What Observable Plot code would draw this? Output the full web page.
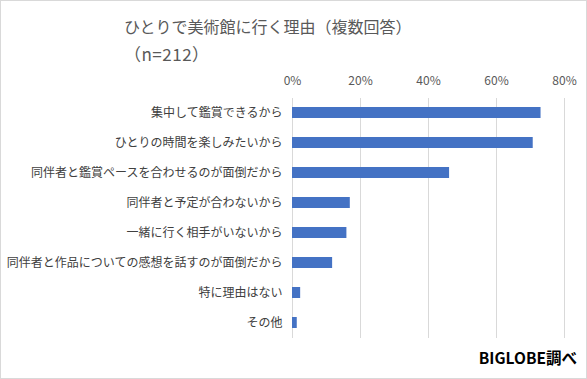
<!DOCTYPE html>
<html><head><meta charset="utf-8">
<script src="https://cdn.jsdelivr.net/npm/d3@7"></script>
<script src="https://cdn.jsdelivr.net/npm/@observablehq/plot@0.6"></script>
<style>
body{margin:0;background:#fff;}
#wrap{position:relative;width:587px;height:379px;overflow:hidden;background:#fff;font-family:"Noto Sans CJK JP","Noto Sans",sans-serif;}
#frame{position:absolute;left:0;top:0;width:585px;height:377px;border:1px solid #d9d9d9;pointer-events:none;}
.t{position:absolute;left:124px;font-size:16px;color:#595959;white-space:nowrap;line-height:1;}
#chart{position:absolute;left:0;top:60px;}
#cap{position:absolute;right:10px;top:350px;font-size:15.5px;font-weight:bold;color:#000;line-height:1;white-space:nowrap;}
</style></head>
<body>
<div id="wrap">
  <div class="t" style="top:18px">ひとりで美術館に行く理由（複数回答）</div>
  <div class="t" style="top:45px;font-size:17px;letter-spacing:0.5px">（n=212）</div>
  <div id="chart"></div>
  <div id="cap">BIGLOBE調べ</div>
  <div id="frame"></div>
</div>
<script>
const categories = [
  "集中して鑑賞できるから",
  "ひとりの時間を楽しみたいから",
  "同伴者と鑑賞ペースを合わせるのが面倒だから",
  "同伴者と予定が合わないから",
  "一緒に行く相手がいないから",
  "同伴者と作品についての感想を話すのが面倒だから",
  "特に理由はない",
  "その他"
];
const values = [73.1, 70.8, 46.2, 17.0, 16.0, 11.8, 2.4, 1.4];
const xTicks = [0, 20, 40, 60, 80];

const data = categories.map((c, i) => ({category: c, value: values[i]}));

const chart = Plot.plot({
  width: 587,
  height: 290,
  marginTop: 38,
  marginBottom: 12,
  marginLeft: 292,
  marginRight: 23,
  style: {fontFamily: '"Noto Sans CJK JP","Noto Sans",sans-serif', fontSize: "12px", background: "transparent"},
  x: {domain: [0, 80]},
  y: {domain: categories, paddingInner: 0.63, paddingOuter: 0.315},
  marks: [
    Plot.gridX(xTicks, {stroke: "#d9d9d9", strokeOpacity: 1, strokeWidth: 1}),
    Plot.barX(data, {y: "category", x: "value", fill: "#4472c4"}),
    Plot.axisX({anchor: "top", ticks: xTicks, tickFormat: d => d + "%", tickSize: 0, tickPadding: 14, label: null, color: "#595959", fontSize: 12}),
    Plot.axisY({tickSize: 0, tickPadding: 10, label: null, color: "#404040", fontSize: 12})
  ]
});
document.getElementById("chart").appendChild(chart);
</script>
</body></html>
